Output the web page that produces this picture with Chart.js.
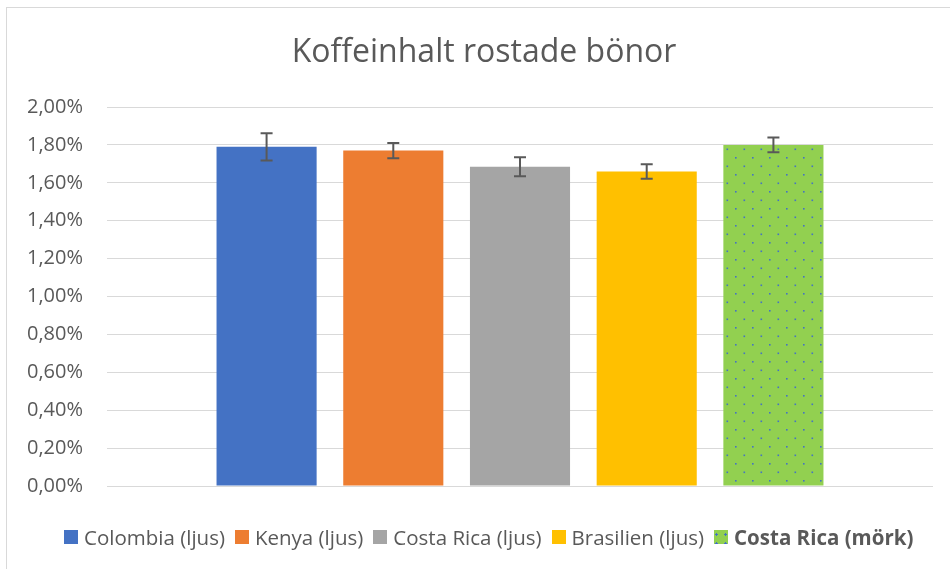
<!DOCTYPE html>
<html lang="sv">
<head>
    <meta charset="UTF-8">
    <title>Koffeinhalt rostade bönor</title>
    <script src="https://cdn.jsdelivr.net/npm/chart.js"></script>
    <style>
        body {
            margin: 0;
            padding: 0;
            overflow: hidden;
            background: #ffffff;
            font-family: 'Open Sans', sans-serif;
        }
        #frame {
            position: absolute;
            left: 6px;
            top: 7px;
            width: 1000px;
            height: 600px;
            border: 1px solid #d9d9d9;
        }
        #chartContainer {
            position: absolute;
            left: 0;
            top: 0;
            width: 950px;
            height: 569px;
        }
        #title {
            position: absolute;
            left: 0;
            width: 968px;
            top: 28px;
            text-align: center;
            color: #595959;
            font-size: 32px;
            white-space: nowrap;
        }
        #legend {
            position: absolute;
            left: 64px;
            top: 523px;
            display: flex;
            align-items: center;
            color: #595959;
            font-size: 20.5px;
            white-space: nowrap;
        }
        .item { display: flex; align-items: center; margin-right: 10px; }
        .box { width: 14px; height: 14px; margin-right: 6px; }
    </style>
</head>
<body>
    <div id="frame"></div>
    <div id="chartContainer">
        <canvas id="coffeeChart"></canvas>
    </div>
    <div id="title">Koffeinhalt rostade bönor</div>
    <div id="legend"></div>
    <script>
        // data (percent)
        const categories = [''];
        const seriesNames = ['Colombia (ljus)', 'Kenya (ljus)', 'Costa Rica (ljus)', 'Brasilien (ljus)', 'Costa Rica (mörk)'];
        const values = [1.79, 1.77, 1.685, 1.66, 1.80];
        const errors = [0.072, 0.04, 0.05, 0.038, 0.039];
        const colors = ['#4472C4', '#ED7D31', '#A5A5A5', '#FFC000', '#92D050'];
        const boldSeries = [false, false, false, false, true];
        const yMin = 0, yMax = 2, yStep = 0.2;

        // dotted fill for the dark roast
        function makeDots(base, dot) {
            const c = document.createElement('canvas');
            c.width = 17; c.height = 17;
            const g = c.getContext('2d');
            g.fillStyle = base;
            g.fillRect(0, 0, 17, 17);
            g.fillStyle = dot;
            g.fillRect(4, 4, 1.6, 1.6);
            g.fillRect(12.5, 12.5, 1.6, 1.6);
            return g.createPattern(c, 'repeat');
        }
        const dotted = makeDots('#92D050', '#4472C4');

        // error bars
        const errorBars = {
            id: 'errorBars',
            afterDatasetsDraw(chart) {
                const ctx = chart.ctx;
                const y = chart.scales.y;
                ctx.save();
                ctx.strokeStyle = '#595959';
                ctx.lineWidth = 2;
                chart.data.datasets.forEach((ds, i) => {
                    const bar = chart.getDatasetMeta(i).data[0];
                    const top = y.getPixelForValue(values[i] + errors[i]);
                    const bot = y.getPixelForValue(values[i] - errors[i]);
                    ctx.beginPath();
                    ctx.moveTo(bar.x, top); ctx.lineTo(bar.x, bot);
                    ctx.moveTo(bar.x - 6, top); ctx.lineTo(bar.x + 6, top);
                    ctx.moveTo(bar.x - 6, bot); ctx.lineTo(bar.x + 6, bot);
                    ctx.stroke();
                });
                ctx.restore();
            }
        };

        const datasets = seriesNames.map((name, i) => ({
            label: name,
            data: [values[i]],
            backgroundColor: i === 4 ? dotted : colors[i],
            categoryPercentage: 0.767,
            barPercentage: 0.79
        }));

        const ctx = document.getElementById('coffeeChart').getContext('2d');
        const chart = new Chart(ctx, {
            type: 'bar',
            data: { labels: categories, datasets: datasets },
            plugins: [errorBars],
            options: {
                responsive: true,
                maintainAspectRatio: false,
                animation: false,
                layout: { padding: { left: 0, right: 17, top: 107, bottom: 83 } },
                plugins: {
                    legend: { display: false },
                    tooltip: { enabled: false },
                    title: { display: false }
                },
                scales: {
                    x: { display: false },
                    y: {
                        min: yMin,
                        max: yMax,
                        afterFit(scale) { scale.width = 107; },
                        ticks: {
                            stepSize: yStep,
                            padding: 24,
                            color: '#595959',
                            font: { family: 'Open Sans', size: 20 },
                            callback: v => v.toFixed(2).replace('.', ',') + '%'
                        },
                        grid: { color: '#d9d9d9', drawTicks: false },
                        border: { display: false }
                    }
                }
            }
        });

        // legend as html so the last entry can be bold
        const legend = document.getElementById('legend');
        seriesNames.forEach((name, i) => {
            const item = document.createElement('span');
            item.className = 'item';
            const box = document.createElement('span');
            box.className = 'box';
            box.style.background = colors[i];
            if (i === 4) {
                box.style.backgroundImage = 'radial-gradient(#4472C4 1px, transparent 1.2px)';
                box.style.backgroundSize = '9px 9px';
                box.style.backgroundPosition = '-2px 0';
            }
            const txt = document.createElement('span');
            txt.textContent = name;
            if (boldSeries[i]) txt.style.fontWeight = 'bold';
            item.appendChild(box);
            item.appendChild(txt);
            legend.appendChild(item);
        });
    </script>
</body>
</html>
